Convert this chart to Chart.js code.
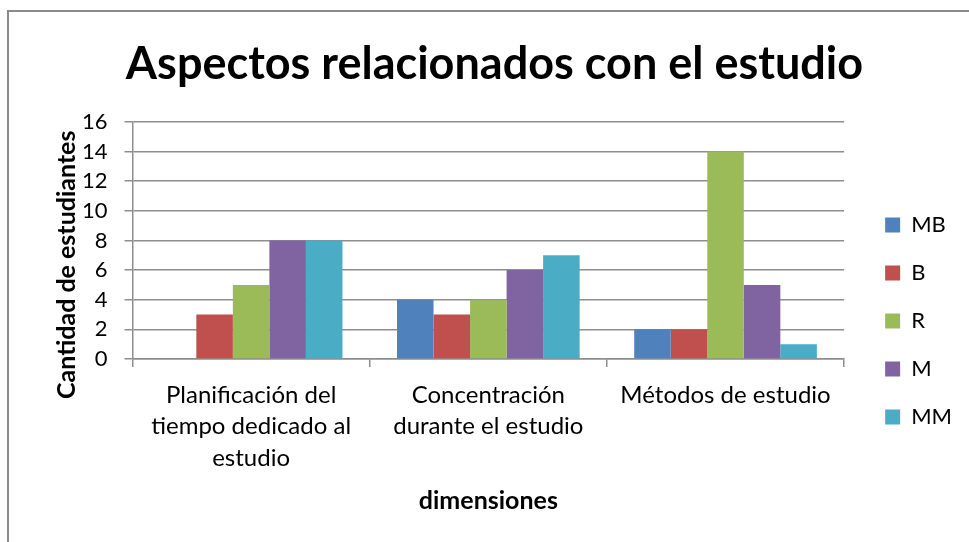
<!DOCTYPE html>
<html>
<head>
<meta charset="utf-8">
<script src="https://cdn.jsdelivr.net/npm/chart.js@4"></script>
<style>
  html, body { margin: 0; padding: 0; background: #fff; overflow: hidden; }
  #wrap { position: relative; width: 969px; height: 542px; }
  #frame { position: absolute; left: 7px; top: 10px; width: 990px; height: 560px; border: 2px solid #8a8a8a; box-sizing: border-box; }
  canvas { position: absolute; left: 0; top: 0; }
</style>
</head>
<body>
<div id="wrap">
  <div id="frame"></div>
  <canvas id="chart" width="969" height="542"></canvas>
</div>
<script>
// values
const categories = [
  ["Planificación del", "tiempo dedicado al", "estudio"],
  ["Concentración", "durante el estudio"],
  ["Métodos de estudio"]
];
const seriesNames = ["MB", "B", "R", "M", "MM"];
const mbValues = [0, 4, 2];
const bValues = [3, 3, 2];
const rValues = [5, 4, 14];
const mValues = [8, 6, 5];
const mmValues = [8, 7, 1];
const yTicks = [0, 2, 4, 6, 8, 10, 12, 14, 16];

const colors = ["#4F81BD", "#C0504D", "#9BBB59", "#8064A2", "#4BACC6"];
const allValues = [mbValues, bValues, rValues, mValues, mmValues];
const font = "Lato";
const gridColor = "#8e8e8e";

// nudge legend and title to where Excel put them
const boxShift = {
  id: "boxShift",
  afterLayout(chart) {
    const lg = chart.legend;
    lg.left += 15; lg.right += 15;
    lg.top += 58; lg.bottom += 58;
    const tb = chart.titleBlock;
    tb.left -= 2; tb.right -= 2;
  }
};

const ctx = document.getElementById("chart").getContext("2d");
new Chart(ctx, {
  type: "bar",
  data: {
    labels: categories,
    datasets: seriesNames.map((name, i) => ({
      label: name,
      data: allValues[i],
      backgroundColor: colors[i],
      borderWidth: 0,
      categoryPercentage: 0.77,
      barPercentage: 1
    }))
  },
  plugins: [boxShift],
  options: {
    responsive: false,
    animation: false,
    layout: { padding: { left: 46, right: 22, top: 10, bottom: 26 } },
    scales: {
      y: {
        min: 0,
        max: 16,
        afterBuildTicks: (scale) => { scale.ticks = yTicks.map(v => ({ value: v })); },
        grid: { color: gridColor, lineWidth: 1.5, tickLength: 8 },
        border: { color: gridColor, width: 1.5 },
        ticks: { color: "#000", padding: 17, autoSkip: false, font: { family: font, size: 22 } },
        title: {
          display: true,
          text: "Cantidad de estudiantes        ",
          color: "#000",
          font: { family: font, size: 25, weight: "bold" },
          padding: { top: 6, bottom: -17 }
        }
      },
      x: {
        grid: { drawOnChartArea: false, color: gridColor, lineWidth: 1.5, tickLength: 8 },
        border: { color: gridColor, width: 1.5 },
        ticks: { color: "#000", padding: 12, maxRotation: 0, font: { family: font, size: 24, lineHeight: 1.32 } },
        title: {
          display: true,
          text: "dimensiones",
          color: "#000",
          font: { family: font, size: 25, weight: "bold" },
          padding: { top: 0, bottom: 0 }
        }
      }
    },
    plugins: {
      title: {
        display: true,
        text: "Aspectos relacionados con el estudio",
        color: "#000",
        font: { family: font, size: 45, weight: "bold" },
        padding: { top: 27, bottom: 31 }
      },
      legend: {
        position: "right",
        labels: {
          color: "#000",
          boxWidth: 15,
          boxHeight: 15,
          padding: 26,
          font: { family: font, size: 22 }
        }
      },
      tooltip: { enabled: false }
    }
  }
});
</script>
</body>
</html>
